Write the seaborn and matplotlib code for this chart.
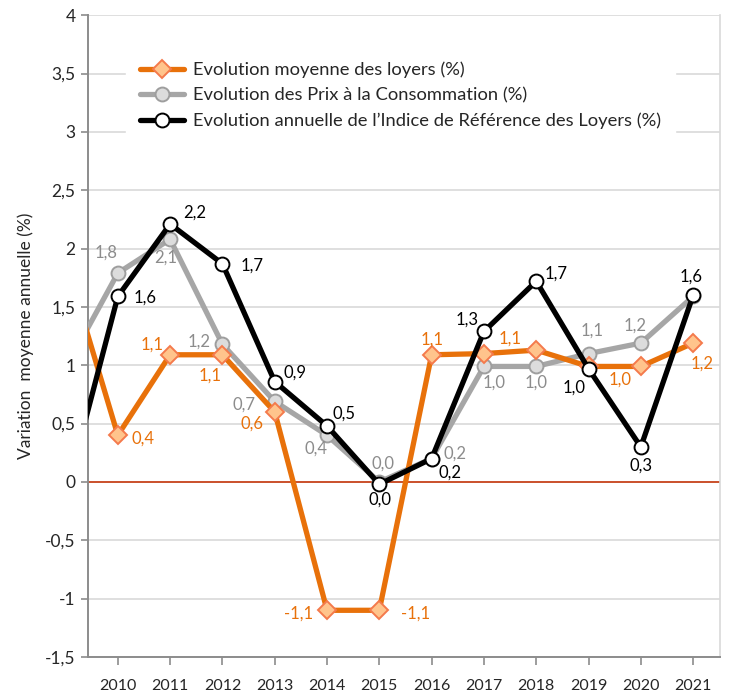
import numpy as np
import pandas as pd
import matplotlib
matplotlib.use("Agg")
import matplotlib.pyplot as plt
import seaborn as sns

# =========================================================
# DATA (2009 only enters from the left edge)
# =========================================================

years = [2009, 2010, 2011, 2012, 2013, 2014, 2015, 2016, 2017, 2018, 2019, 2020, 2021]

loyers = [1.9, 0.4, 1.09, 1.09, 0.6, -1.1, -1.1, 1.09, 1.1, 1.13, 0.99, 0.99, 1.19]
prix = [0.97, 1.79, 2.08, 1.18, 0.69, 0.4, 0.0, 0.2, 0.99, 0.99, 1.1, 1.19, 1.59]
irl = [-0.12, 1.59, 2.21, 1.87, 0.86, 0.48, -0.02, 0.2, 1.29, 1.72, 0.97, 0.3, 1.6]

# data labels as printed on the chart ("" = no label)
lab_loyers = ["", "0,4", "1,1", "1,1", "0,6", "-1,1", "-1,1", "1,1", "1,1", "", "", "1,0", "1,2"]
lab_prix = ["", "1,8", "2,1", "1,2", "0,7", "0,4", "0,0", "0,2", "1,0", "1,0", "1,1", "1,2", ""]
lab_irl = ["", "1,6", "2,2", "1,7", "0,9", "0,5", "0,0", "0,2", "1,3", "1,7", "1,0", "0,3", "1,6"]

names = [
    "Evolution moyenne des loyers (%)",
    "Evolution des Prix à la Consommation (%)",
    "Evolution annuelle de l\u2019Indice de Référence des Loyers (%)",
]

y_ticks = [-1.5, -1, -0.5, 0, 0.5, 1, 1.5, 2, 2.5, 3, 3.5, 4]

# label offsets in pixels
off_loyers = [None, (25, -3), (-18, 10), (-12, -21), (-23, -12), (-28, -3), (36, -3),
              (0, 15), (26, 15), None, None, (-21, -13), (9, -21)]
off_prix = [None, (-12, 20), (-4, -18), (-23, 3), (-31, -3), (-11, -13), (4, 18),
            (23, 5), (10, -16), (0, -16), (4, 23), (-6, 17), None]
off_irl = [None, (27, -1), (25, 11), (30, -2), (20, 9), (17, 12), (1, -15),
           (18, -14), (-17, 12), (20, 8), (-14, -19), (0, -19), (-2, 19)]

# =========================================================
# STYLE
# =========================================================

sns.set_theme(style="white")
plt.rcParams["font.family"] = ["Lato", "DejaVu Sans"]

ORANGE = "#E8710A"
GRAY = "#A6A6A6"

fig = plt.figure(figsize=(7.31, 6.93), dpi=100)
ax = fig.add_axes([0.1204, 0.052, 0.865, 0.926])

ax.axhline(0, color="#C9461E", lw=1.3, zorder=1)

series = [
    (loyers, lab_loyers, off_loyers, ORANGE, "D", "#FFC48C", "#F47A4C", 9, ORANGE, 4),
    (prix, lab_prix, off_prix, GRAY, "o", "#DCDCDC", "#9E9E9E", 10, "#8C8C8C", 3),
    (irl, lab_irl, off_irl, "black", "o", "white", "black", 10, "black", 5),
]

for (vals, labs, offs, col, mk, mfc, mec, ms, lcol, z), name in zip(series, names):
    df = pd.DataFrame({"year": years, "value": vals})
    sns.lineplot(
        data=df,
        x="year",
        y="value",
        ax=ax,
        color=col,
        lw=3.8,
        marker=mk,
        markersize=ms,
        markerfacecolor=mfc,
        markeredgecolor=mec,
        markeredgewidth=1.4,
        zorder=z,
        label=name,
    )
    for yr, v, txt, o in zip(years, vals, labs, offs):
        if not txt:
            continue
        ax.annotate(
            txt,
            xy=(yr, v),
            xytext=o,
            textcoords="offset pixels",
            ha="center",
            va="center",
            fontsize=12,
            color=lcol,
            zorder=6,
        )

# =========================================================
# AXES
# =========================================================

ax.set_xlim(2009.43, 2021.52)
ax.set_ylim(-1.5, 4)

ax.set_xticks(years[1:])
ax.set_xticklabels([str(y) for y in years[1:]], fontsize=11.5)
ax.set_yticks(y_ticks)
ax.set_yticklabels([f"{t:g}".replace(".", ",") for t in y_ticks], fontsize=12.5)

ax.grid(axis="y", color="#D9D9D9", lw=1.2)
ax.set_axisbelow(True)

for s in ["left", "bottom"]:
    ax.spines[s].set_color("#8C8C8C")
    ax.spines[s].set_linewidth(1.4)
ax.spines["right"].set_color("#D9D9D9")
ax.spines["right"].set_linewidth(1.2)
ax.spines["top"].set_visible(False)

ax.tick_params(axis="x", direction="out", length=6, width=1.2, color="#8C8C8C", pad=10)
ax.tick_params(axis="y", direction="out", length=5, width=1.2, color="#8C8C8C", pad=4)
ax.tick_params(axis="both", bottom=True, left=True)

ax.set_xlabel("")
ax.set_ylabel("Variation  moyenne annuelle (%)", fontsize=12.5, labelpad=8)

leg = ax.legend(
    loc="upper left",
    bbox_to_anchor=(0.045, 0.965),
    frameon=True,
    facecolor="white",
    edgecolor="white",
    framealpha=1,
    fancybox=False,
    fontsize=13.2,
    handlelength=2.4,
    handletextpad=0.45,
    labelspacing=0.5,
    borderpad=0.8,
)
leg.set_zorder(10)

fig.savefig("out.png", dpi=100)
